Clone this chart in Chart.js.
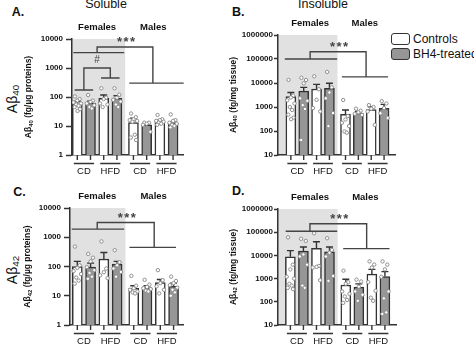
<!DOCTYPE html>
<html>
<head>
<meta charset="utf-8">
<script src="https://cdn.jsdelivr.net/npm/chart.js@4.4.1/dist/chart.umd.min.js"></script>
<style>
  html, body { margin: 0; padding: 0; background: #fff; }
  body { position: relative; width: 474px; height: 345px; overflow: hidden;
         font-family: 'Liberation Sans', Arial, sans-serif; color: #111; }
  canvas { position: absolute; }
  .txt { position: absolute; white-space: nowrap; line-height: 1; }
  .head { font-size: 12.5px; width: 100px; text-align: center; }
  .letter { font-size: 12.5px; font-weight: bold; }
  .big { font-size: 14px; width: 60px; height: 16px; line-height: 16px; text-align: center;
         transform: rotate(-90deg); }
  .big sub { font-size: 70%; vertical-align: -0.2em; line-height: 0; }
  .key { position: absolute; box-sizing: border-box; width: 19px; height: 12px;
         border: 1.5px solid #333; border-radius: 3px; }
  .keytxt { font-size: 12px; line-height: 12px; }
</style>
</head>
<body>
<div class="txt head" style="left:56px;top:-1.6px">Soluble</div>
<div class="txt head" style="left:273px;top:-2px">Insoluble</div>
<div class="txt letter" style="left:11.7px;top:6.1px">A.</div>
<div class="txt letter" style="left:232px;top:6.4px">B.</div>
<div class="txt letter" style="left:13.3px;top:186.4px">C.</div>
<div class="txt letter" style="left:232px;top:185.4px">D.</div>
<div class="txt big" style="left:-18.3px;top:91px">Aβ<sub>40</sub></div>
<div class="txt big" style="left:-18.3px;top:262px">Aβ<sub>42</sub></div>
<div id="legend"></div>

<canvas id="panelA" width="172" height="166" style="left:20px;top:14px"></canvas>
<canvas id="panelB" width="178" height="170" style="left:224px;top:10px"></canvas>
<canvas id="panelC" width="172" height="161" style="left:18px;top:184px"></canvas>
<canvas id="panelD" width="178" height="161" style="left:224px;top:184px"></canvas>

<script>
const dietLabels = ['CD', 'HFD', 'CD', 'HFD'];
const sexLabels = ['Females', 'Males'];
const seriesNames = ['Controls', 'BH4-treated'];
const solubleTicks = [1, 10, 100, 1000, 10000];
const insolubleTicks = [10, 100, 1000, 10000, 100000, 1000000];

// A: soluble Abeta40 (fg/ug proteins)
const solA40Controls = [58, 90, 13, 14];
const solA40ControlsSem = [12, 27, 5.5, 2];
const solA40Bh4 = [62, 90, 11, 12.5];
const solA40Bh4Sem = [10, 20, 1, 1.5];
const solA40ControlsDots = [[105, 85, 75, 65, 60, 55, 50, 45, 38, 33], [200, 95, 85, 60, 55, 45], [27, 20, 17, 16, 15, 14, 5, 4, 3.3], [24, 17, 16, 15, 14, 13, 12, 11]];
const solA40Bh4Dots = [[117, 75, 68, 60, 52, 45, 40], [200, 120, 95, 80, 70, 55, 45], [13, 13, 12, 11, 6.3], [25, 16, 15, 13, 12, 11, 10, 9]];
const solA40Brackets = [
  { label: '***', base: [[-0.3, 3.55, 3400], [3.93, 8.05, 300]], join: [1.5, 5.72], top: 5300 },
  { label: '#', base: [[-0.2, 1.2, 175], [1.8, 3.2, 450]], join: [0.5, 2.5], top: 1000 }
];

// B: insoluble Abeta40 (fg/mg tissue)
const insolA40Controls = [2700, 5600, 490, 780];
const insolA40ControlsSem = [1300, 3200, 260, 250];
const insolA40Bh4 = [4600, 6000, 560, 870];
const insolA40Bh4Sem = [2000, 3700, 90, 420];
const insolA40ControlsDots = [[13500, 3000, 2500, 1900, 1400, 1000, 750, 480, 360, 310], [19000, 5500, 2000, 900, 650], [1950, 420, 300, 220, 160, 95, 85], [1200, 1000, 850, 650, 180]];
const insolA40Bh4Dots = [[16500, 13300, 9700, 2300, 1800, 1200, 830, 42], [29000, 6600, 4000, 2300, 560, 160], [850, 700, 600, 520, 470], [1750, 1400, 900, 550, 350]];
const insolA40Brackets = [
  { label: '***', base: [[-0.47, 3.6, 100000], [3.97, 7.56, 18000]], join: [1.5, 5.85], top: 200000 }
];

// C: soluble Abeta42 (fg/ug proteins)
const solA42Controls = [100, 180, 18, 28];
const solA42ControlsSem = [50, 120, 4, 8];
const solA42Bh4 = [95, 120, 19, 21];
const solA42Bh4Sem = [35, 30, 3, 6];
const solA42ControlsDots = [[480, 110, 90, 70, 55, 42, 33, 26], [720, 85, 64, 50, 40], [48, 22, 18, 16, 14, 13, 12], [75, 34, 27, 21, 16, 12]];
const solA42Bh4Dots = [[270, 200, 150, 95, 75, 60, 45, 38], [360, 140, 110, 85, 65, 45], [35, 24, 20, 18, 17, 15, 14], [45, 32, 27, 23, 19, 16, 13, 10]];
const solA42Brackets = [
  { label: '***', base: [[-0.42, 3.53, 1900], [3.93, 7.43, 450]], join: [1.5, 5.79], top: 3200 }
];

// D: insoluble Abeta42 (fg/mg tissue)
const insolA42Controls = [8700, 20000, 530, 1550];
const insolA42ControlsSem = [7300, 19000, 410, 950];
const insolA42Bh4 = [15500, 14400, 430, 1230];
const insolA42Bh4Sem = [7500, 8600, 160, 770];
const insolA42ControlsDots = [[60000, 4000, 2500, 1200, 1000, 600, 500, 400, 350], [90000, 3500, 3200, 3000, 850], [2200, 700, 600, 280, 220, 170, 120, 90], [5500, 4000, 3000, 700, 300, 150, 110]];
const insolA42Bh4Dots = [[52000, 42000, 11000, 9000, 4000, 500, 400], [55000, 17000, 13000, 9000, 1300, 800], [900, 750, 450, 280, 200, 110], [5500, 4000, 2500, 1200, 280, 140, 35, 30]];
const insolA42Brackets = [
  { label: '***', base: [[-0.36, 3.59, 110000], [4.05, 7.6, 19500]], join: [1.5, 5.85], top: 230000 }
];

const FONT = "'Liberation Sans', Arial, sans-serif";
const INK = '#333333';
const TEXT = '#111111';
const seriesFill = ['#ffffff', '#969696'];
const SHADE = '#e1e1e1';
const jitter = [-0.18, 0.18, 0, -0.28, 0.28, -0.08, 0.1, -0.2, 0.2, 0.02];

// bar slot: female groups 0..3, a small gap, then male groups
function barPos(g, s) {
  return 2 * g + s + (g >= 2 ? 0.25 : 0);
}
const shadeEnd = 3.625;

// legend
document.getElementById('legend').innerHTML = seriesNames.map((name, i) =>
  `<div class="key" style="left:391px;top:${33 + i * 15}px;background:${seriesFill[i]}"></div>` +
  `<div class="txt keytxt" style="left:413px;top:${33 + i * 15}px">${name}</div>`).join('');

function decor(p) {
  return {
    id: 'decor',
    beforeDraw(chart) {
      const { ctx, chartArea, scales: { x } } = chart;
      ctx.save();
      ctx.fillStyle = SHADE;
      ctx.fillRect(chartArea.left, chartArea.top, x.getPixelForValue(shadeEnd) - chartArea.left, chartArea.bottom - chartArea.top);
      ctx.restore();
    },
    afterDatasetDraw(chart, args) {
      if (args.meta.type !== 'bar') return;
      const sem = p.sem[args.index];
      const y = chart.scales.y;
      const ctx = chart.ctx;
      ctx.save();
      ctx.strokeStyle = INK;
      ctx.lineWidth = 1.4;
      args.meta.data.forEach((bar, i) => {
        const top = y.getPixelForValue(p.means[args.index][i] + sem[i]);
        ctx.beginPath();
        ctx.moveTo(bar.x, bar.y);
        ctx.lineTo(bar.x, top);
        ctx.moveTo(bar.x - 3.5, top);
        ctx.lineTo(bar.x + 3.5, top);
        ctx.stroke();
      });
      ctx.restore();
    },
    afterDraw(chart) {
      const { ctx, chartArea, scales: { x, y } } = chart;
      const px = v => x.getPixelForValue(v);
      const py = v => y.getPixelForValue(v);
      ctx.save();
      ctx.strokeStyle = INK;
      ctx.fillStyle = TEXT;
      ctx.lineWidth = 1.4;

      // diet ticks, group underlines and labels
      const b = chartArea.bottom;
      ctx.font = `9.5px ${FONT}`;
      ctx.textAlign = 'center';
      ctx.textBaseline = 'middle';
      dietLabels.forEach((lab, g) => {
        const x0 = px(barPos(g, 0)), x1 = px(barPos(g, 1));
        ctx.beginPath();
        ctx.moveTo(x0, b); ctx.lineTo(x0, b + 5);
        ctx.moveTo(x1, b); ctx.lineTo(x1, b + 5);
        ctx.moveTo(x0 - 3.5, b + 8.5); ctx.lineTo(x1 + 3.5, b + 8.5);
        ctx.stroke();
        ctx.fillText(lab, (x0 + x1) / 2, b + 16);
      });

      // sex labels
      ctx.font = `bold 9.5px ${FONT}`;
      ctx.fillText(sexLabels[0], px((barPos(0, 0) + barPos(1, 1)) / 2), chartArea.top - 11.5);
      ctx.fillText(sexLabels[1], px((barPos(2, 0) + barPos(3, 1)) / 2), chartArea.top - 11.5);

      // significance brackets
      ctx.strokeStyle = '#444';
      p.brackets.forEach(br => {
        const [l, r] = br.base;
        ctx.beginPath();
        ctx.moveTo(px(l[0]), py(l[2])); ctx.lineTo(px(l[1]), py(l[2]));
        ctx.moveTo(px(r[0]), py(r[2])); ctx.lineTo(px(r[1]), py(r[2]));
        ctx.moveTo(px(br.join[0]), py(l[2]));
        ctx.lineTo(px(br.join[0]), py(br.top));
        ctx.lineTo(px(br.join[1]), py(br.top));
        ctx.lineTo(px(br.join[1]), py(r[2]));
        ctx.stroke();
        const mid = (px(br.join[0]) + px(br.join[1])) / 2 + 1;
        ctx.textBaseline = 'alphabetic';
        ctx.fillStyle = '#444';
        if (br.label === '#') {
          ctx.font = `10px ${FONT}`;
          ctx.fillText('#', mid - 1, py(br.top) - 5);
        } else {
          ctx.font = `bold 13px ${FONT}`;
          [-6.5, 0, 6.5].forEach(dx => ctx.fillText('*', mid + dx, py(br.top) - 0.5));
        }
      });

      // y title with subscript
      ctx.fillStyle = TEXT;
      ctx.translate(chartArea.left - p.titleGap, (chartArea.top + chartArea.bottom) / 2);
      ctx.rotate(-Math.PI / 2);
      const big = `bold 8.5px ${FONT}`, small = `bold 6px ${FONT}`;
      ctx.font = big;
      const w1 = ctx.measureText(p.yTitle[0]).width, w3 = ctx.measureText(p.yTitle[2]).width;
      ctx.font = small;
      const w2 = ctx.measureText(p.yTitle[1]).width;
      const x0 = -(w1 + w2 + w3) / 2;
      ctx.textAlign = 'left';
      ctx.textBaseline = 'middle';
      ctx.font = big; ctx.fillText(p.yTitle[0], x0, 0);
      ctx.font = small; ctx.fillText(p.yTitle[1], x0 + w1, 2.2);
      ctx.font = big; ctx.fillText(p.yTitle[2], x0 + w1 + w2, 0);
      ctx.restore();
    }
  };
}

function buildPanel(id, p) {
  const bars = [0, 1].map(s => ({
    type: 'bar',
    label: seriesNames[s],
    data: p.means[s].map((v, g) => ({ x: barPos(g, s), y: v })),
    backgroundColor: seriesFill[s],
    borderColor: INK,
    borderWidth: 1.5,
    barThickness: 10,
    grouped: false,
    order: 2
  }));
  const dots = [0, 1].map(s => ({
    type: 'scatter',
    label: seriesNames[s] + ' (animals)',
    data: p.dots[s].flatMap((vals, g) => vals.map((v, j) => ({ x: barPos(g, s) + jitter[j % jitter.length], y: v }))),
    pointRadius: 1.7,
    borderWidth: 1,
    borderColor: '#909090',
    backgroundColor: '#ffffff',
    order: 1
  }));

  new Chart(document.getElementById(id), {
    type: 'bar',
    data: { datasets: [...bars, ...dots] },
    plugins: [decor(p)],
    options: {
      responsive: false,
      animation: false,
      events: [],
      layout: { padding: { top: p.padTop, right: p.padRight, left: 0, bottom: 0 } },
      plugins: { legend: { display: false }, tooltip: { enabled: false } },
      scales: {
        x: {
          type: 'linear',
          min: p.xMin,
          max: p.xMax,
          offset: false,
          grid: { display: false },
          ticks: { display: false },
          border: { color: INK, width: 1.5 },
          afterFit: s => { s.height = p.axisH; }
        },
        y: {
          type: 'logarithmic',
          min: p.ticks[0],
          max: p.ticks[p.ticks.length - 1],
          afterBuildTicks: s => { s.ticks = p.ticks.map(v => ({ value: v })); },
          ticks: {
            callback: v => String(v),
            autoSkip: false,
            padding: p.tickPad,
            color: TEXT,
            font: { family: FONT, size: 8, weight: 'bold' }
          },
          grid: { drawOnChartArea: false, drawTicks: true, tickLength: p.tickLen, tickColor: INK, tickWidth: 1.5 },
          border: { color: INK, width: 1.5 },
          afterFit: s => { s.width = p.axisW; }
        }
      }
    }
  });
}

buildPanel('panelA', {
  means: [solA40Controls, solA40Bh4], sem: [solA40ControlsSem, solA40Bh4Sem],
  dots: [solA40ControlsDots, solA40Bh4Dots], brackets: solA40Brackets, ticks: solubleTicks,
  yTitle: ['A\u03B2', '40', ' (fg/\u00B5g proteins)'],
  xMin: -0.4, xMax: 8.0, axisW: 52, axisH: 25, padTop: 25, padRight: 9, tickLen: 6, tickPad: 3, titleGap: 43
});
buildPanel('panelB', {
  means: [insolA40Controls, insolA40Bh4], sem: [insolA40ControlsSem, insolA40Bh4Sem],
  dots: [insolA40ControlsDots, insolA40Bh4Dots], brackets: insolA40Brackets, ticks: insolubleTicks,
  yTitle: ['A\u03B2', '40', ' (fg/mg tissue)'],
  xMin: -1.0, xMax: 8.1, axisW: 54, axisH: 25, padTop: 25, padRight: 7, tickLen: 4, tickPad: 1, titleGap: 44.5
});
buildPanel('panelC', {
  means: [solA42Controls, solA42Bh4], sem: [solA42ControlsSem, solA42Bh4Sem],
  dots: [solA42ControlsDots, solA42Bh4Dots], brackets: solA42Brackets, ticks: solubleTicks,
  yTitle: ['A\u03B2', '42', ' (fg/\u00B5g proteins)'],
  xMin: -0.55, xMax: 7.96, axisW: 52, axisH: 20, padTop: 24, padRight: 7, tickLen: 6, tickPad: 3, titleGap: 42
});
buildPanel('panelD', {
  means: [insolA42Controls, insolA42Bh4], sem: [insolA42ControlsSem, insolA42Bh4Sem],
  dots: [insolA42ControlsDots, insolA42Bh4Dots], brackets: insolA42Brackets, ticks: insolubleTicks,
  yTitle: ['A\u03B2', '42', ' (fg/mg tissue)'],
  xMin: -0.95, xMax: 8.1, axisW: 54, axisH: 20, padTop: 25, padRight: 6, tickLen: 4, tickPad: 1, titleGap: 44.5
});
</script>
</body>
</html>
